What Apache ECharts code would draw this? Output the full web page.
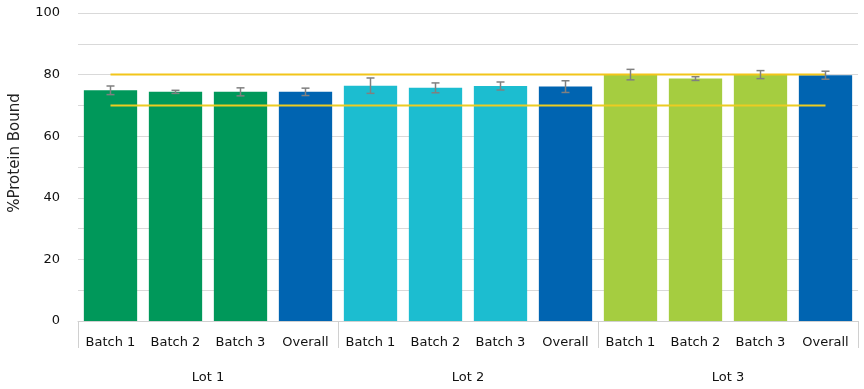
<!DOCTYPE html>
<html>
<head>
<meta charset="utf-8">
<script src="https://cdn.jsdelivr.net/npm/echarts@6/dist/echarts.min.js"></script>
<style>
html,body{margin:0;padding:0;background:#fff;}
#chart{width:864px;height:389px;}
</style>
</head>
<body>
<div id="chart"></div>
<script>
var categories = ['Batch 1','Batch 2','Batch 3','Overall','Batch 1','Batch 2','Batch 3','Overall','Batch 1','Batch 2','Batch 3','Overall'];
var lots = ['Lot 1','Lot 2','Lot 3'];
var values = [74.9, 74.4, 74.4, 74.4, 76.4, 75.7, 76.3, 76.1, 80.0, 78.7, 80.0, 79.8];
var errors = [1.4, 0.5, 1.3, 1.2, 2.5, 1.6, 1.3, 1.9, 1.7, 0.6, 1.3, 1.3];
var barColors = ['#00985a','#00985a','#00985a','#0064b1','#1cbdd0','#1cbdd0','#1cbdd0','#0064b1','#a5cd40','#a5cd40','#a5cd40','#0064b1'];
var upperLimit = [80,80,80,80,80,80,80,80,80,80,80,80];
var lowerLimit = [70,70,70,70,70,70,70,70,70,70,70,70];
var yTicks = [0, 20, 40, 60, 80, 100];

var chart = echarts.init(document.getElementById('chart'), null, {renderer:'canvas'});
var font = 'DejaVu Sans, Verdana, sans-serif';

var errData = values.map(function(v,i){ return [i, v - errors[i], v + errors[i]]; });

chart.setOption({
  animation: false,
  grid: {left: 78, right: 6, top: 13, bottom: 68},
  graphic: [{
    type: 'text', rotation: Math.PI/2, x: 15, y: 153,
    style: {text: '%Protein Bound', font: '15px ' + font, fill: '#222', align: 'center', verticalAlign: 'middle'}
  }],
  xAxis: [{
    type: 'category', data: categories, position: 'bottom',
    axisLine: {show: true, lineStyle: {color: '#d0d0d0', width: 1}},
    axisTick: {show: false},
    axisLabel: {interval: 0, color: '#111', fontFamily: font, fontSize: 13, margin: 15}
  },{
    type: 'category', data: lots, position: 'bottom',
    axisLine: {show: false},
    axisTick: {show: true, length: 27, interval: 0, lineStyle: {color: '#d0d0d0'}},
    axisLabel: {interval: 0, color: '#111', fontFamily: font, fontSize: 13, margin: 50}
  }],
  yAxis: {
    type: 'value', min: 0, max: 100, interval: 10,
    axisLine: {show: false}, axisTick: {show: false},
    splitLine: {lineStyle: {color: '#d9d9d9', width: 1}},
    axisLabel: {color: '#111', fontFamily: font, fontSize: 13, margin: 18,
      formatter: function(v){ return yTicks.indexOf(v) >= 0 ? String(v) : ''; }}
  },
  series: [{
    type: 'bar', xAxisIndex: 0, barCategoryGap: '18%',
    data: values.map(function(v,i){ return {value: v, itemStyle: {color: barColors[i]}}; }),
    z: 2
  },{
    type: 'custom', xAxisIndex: 0, data: errData, z: 5,
    renderItem: function(params, api){
      var x = api.coord([api.value(0), 0])[0];
      var lo = api.coord([api.value(0), api.value(1)])[1];
      var hi = api.coord([api.value(0), api.value(2)])[1];
      var w = 4;
      var st = {stroke: '#808080', lineWidth: 1.5};
      return {type: 'group', children: [
        {type: 'line', shape: {x1: x, y1: lo, x2: x, y2: hi}, style: st},
        {type: 'line', shape: {x1: x-w, y1: lo, x2: x+w, y2: lo}, style: st},
        {type: 'line', shape: {x1: x-w, y1: hi, x2: x+w, y2: hi}, style: st}
      ]};
    }
  },{
    type: 'line', xAxisIndex: 0, data: upperLimit, symbol: 'none', z: 4,
    lineStyle: {color: '#f2c51a', width: 2}
  },{
    type: 'line', xAxisIndex: 0, data: lowerLimit, symbol: 'none', z: 4,
    lineStyle: {color: '#eccc22', width: 2}
  }]
});
</script>
</body>
</html>
